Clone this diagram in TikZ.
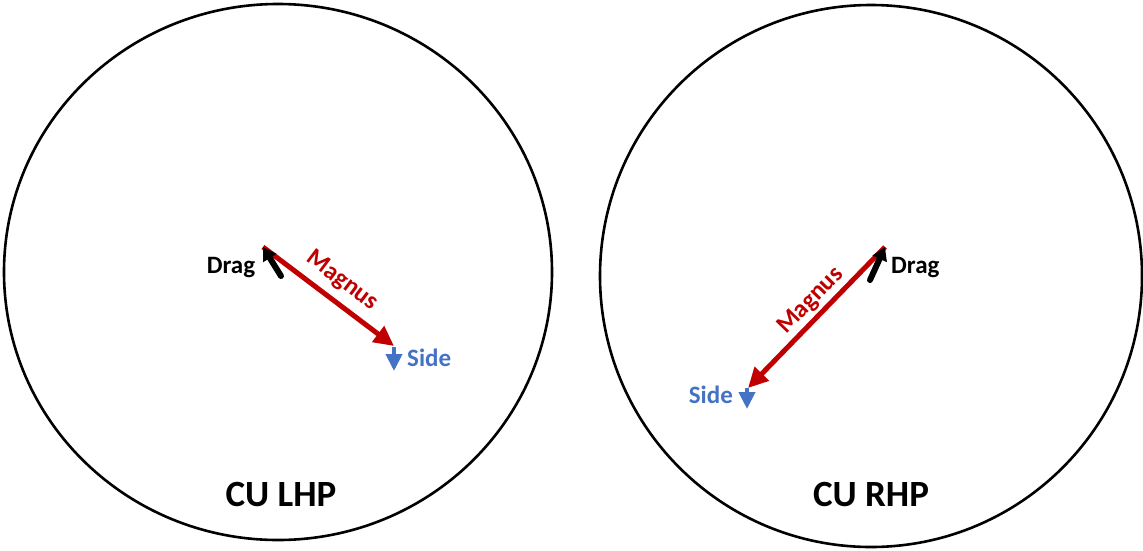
\documentclass[tikz,border=0pt]{standalone}
\usepackage{fontspec}
\setmainfont{Carlito}
\usetikzlibrary{arrows.meta}
\definecolor{magred}{HTML}{C00000}
\definecolor{sideblue}{HTML}{4472C4}
\begin{document}
\begin{tikzpicture}[x=1pt,y=-1pt,
  rim/.style={draw=black,line width=2.6pt},
  magnusarrow/.style={draw=magred,line width=5pt,-{Triangle[length=20pt,width=19pt]}},
  dragarrow/.style={draw=black,line width=6pt,line cap=round,-{Triangle[length=13pt,width=15pt]}},
  sidearrow/.style={draw=sideblue,line width=4pt,-{Triangle[length=17pt,width=16pt]}},
  small/.style={font=\fontsize{25}{30}\selectfont\bfseries,inner sep=0pt},
  big/.style={font=\fontsize{37}{44}\selectfont\bfseries,inner sep=0pt}]
\useasboundingbox (0,0) rectangle (1143,550);

% plates
\draw[rim] (278,272) ellipse [x radius=274, y radius=268];
\draw[rim] (871,276) ellipse [x radius=271, y radius=271];

% left-hand pitcher
\coordinate (lo) at (263,247);
\coordinate (lm) at (394,346);
\coordinate (ld) at (281,276);
\coordinate (ls0) at (394,347);
\coordinate (ls1) at (394,371);
\draw[magnusarrow] (lo) -- (lm);
\draw[dragarrow] (ld) -- (lo);
\draw[sidearrow] (ls0) -- (ls1);
\node[small,anchor=base] (ldrag) at (231,273) {Drag};
\node[small,anchor=base west,text=sideblue] (lside) at (407,366) {Side};
\node[small,text=magred,rotate=-37] (lmag) at (342,281) {Magnus};
\node[big,anchor=base] (lname) at (281,506) {CU LHP};

% right-hand pitcher
\coordinate (ro) at (885,247);
\coordinate (rm) at (748,388);
\coordinate (rd) at (870,280);
\coordinate (rs0) at (747,388);
\coordinate (rs1) at (747,409);
\draw[magnusarrow] (ro) -- (rm);
\draw[dragarrow] (rd) -- (ro);
\draw[sidearrow] (rs0) -- (rs1);
\node[small,anchor=base west] (rdrag) at (891,273) {Drag};
\node[small,anchor=base east,text=sideblue] (rside) at (733,403) {Side};
\node[small,text=magred,rotate=45.8] (rmag) at (811,301) {Magnus};
\node[big,anchor=base] (rname) at (871,506) {CU RHP};
\end{tikzpicture}
\end{document}
